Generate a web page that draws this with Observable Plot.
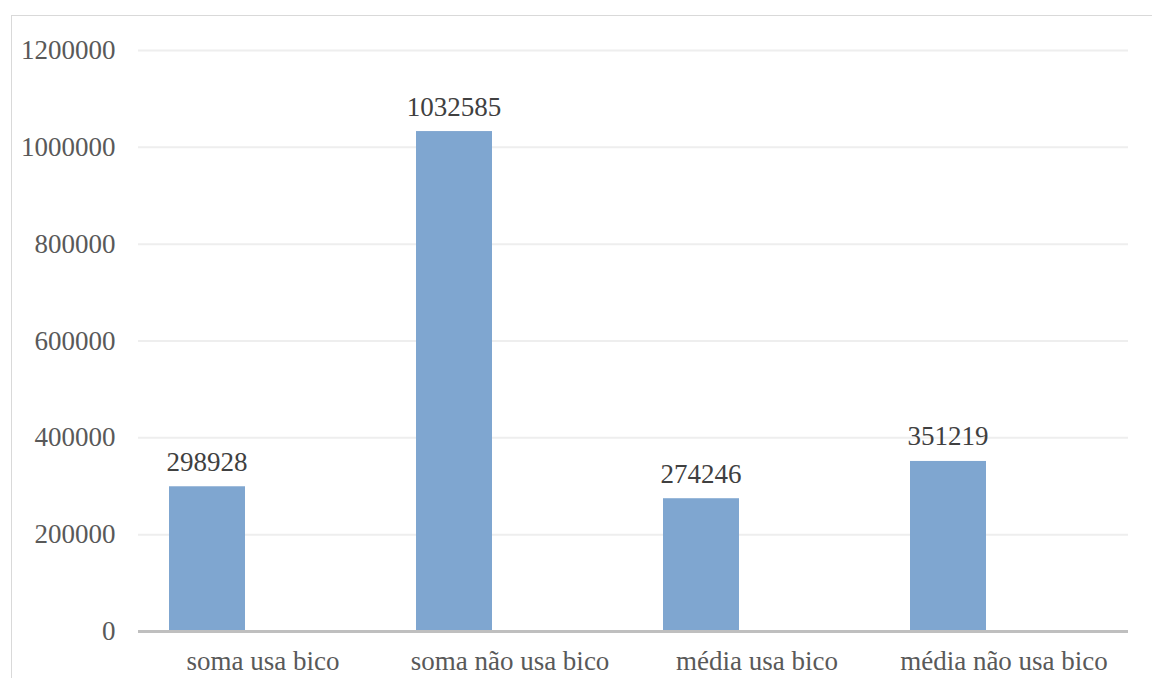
<!DOCTYPE html>
<html>
<head>
<meta charset="utf-8">
<script src="https://cdn.jsdelivr.net/npm/d3@7"></script>
<script src="https://cdn.jsdelivr.net/npm/@observablehq/plot@0.6"></script>
<style>
  html, body { margin: 0; padding: 0; background: #fff; overflow: hidden; }
  #wrap { position: relative; width: 1152px; height: 678px; }
  #frame { position: absolute; left: 11px; top: 15px; width: 1200px; height: 700px;
           border: 1.5px solid #d9d9d9; box-sizing: border-box; pointer-events: none; }
  #chart { position: absolute; left: 0; top: 0; }
</style>
</head>
<body>
<div id="wrap"><div id="chart"></div><div id="frame"></div></div>
<script>
const categories = ["soma usa bico", "soma não usa bico", "média usa bico", "média não usa bico"];
const values = [298928, 1032585, 274246, 351219];
const yTicks = [0, 200000, 400000, 600000, 800000, 1000000, 1200000];

const data = categories.map((c, i) => ({cat: c, value: values[i]}));

const chart = Plot.plot({
  width: 1152,
  height: 678,
  marginLeft: 138,
  marginRight: 24,
  marginTop: 50,
  marginBottom: 47,
  style: {fontFamily: "'Liberation Serif', serif", fontSize: "27px", color: "#595959", background: "transparent"},
  x: {domain: categories, padding: 0, label: null, tickSize: 0, tickPadding: 19},
  y: {domain: [0, 1200000], ticks: yTicks, tickFormat: d => String(d), label: null, tickSize: 0, tickPadding: 23},
  marks: [
    Plot.gridY(yTicks, {stroke: "#eeeeee", strokeOpacity: 1, strokeWidth: 2}),
    Plot.barY(data, {x: "cat", y: "value", fill: "#7fa6d0", insetLeft: 30, insetRight: 141}),
    Plot.ruleY([0], {stroke: "#bfbfbf", strokeWidth: 3}),
    Plot.text(data, {x: "cat", y: "value", text: d => String(d.value), dx: -56, dy: -16,
                     lineAnchor: "bottom", fill: "#404040", fontSize: 27})
  ]
});
document.getElementById("chart").appendChild(chart);
</script>
</body>
</html>
